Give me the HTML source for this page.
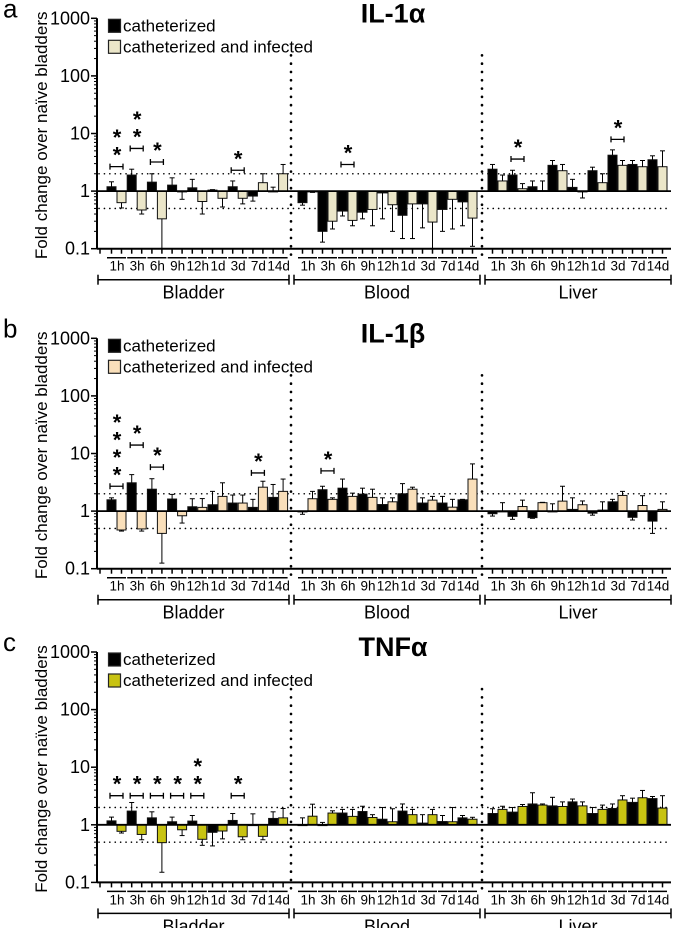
<!DOCTYPE html>
<html><head><meta charset="utf-8"><style>
html,body{margin:0;padding:0;background:#fff;}
svg{display:block;font-family:"Liberation Sans",sans-serif;}
</style></head><body>
<svg id="chart" width="673" height="928" viewBox="0 0 673 928" xmlns="http://www.w3.org/2000/svg"></svg>
<script>
const timepoints = ["1h","3h","6h","9h","12h","1d","3d","7d","14d"];
const tissues = ["Bladder","Blood","Liver"];
const yTicks = [0.1,1,10,100,1000];
const yTickLabels = ["0.1","1","10","100","1000"];
const panelTitles = ["IL-1\u03b1","IL-1\u03b2","TNF\u03b1"];
const panelLetters = ["a","b","c"];

// Panel a (IL-1a): 27 groups = bladder, blood, liver
const aCath    = [1.19,1.9,1.43,1.27,1.14,1.04,1.19,0.82,1.0, 0.63,0.2,0.45,0.43,0.93,0.38,0.6,0.48,0.65, 2.4,1.9,1.19,2.8,1.16,2.26,4.2,2.9,3.5];
const aCathErr = [1.45,2.4,2.0,1.7,1.6,1.06,1.5,0.67,1.17, 0.57,0.13,0.37,0.33,0.33,0.15,0.23,0.2,0.25, 2.9,2.3,1.5,3.4,1.6,2.6,5.2,3.4,4.1];
const aInf     = [0.63,0.47,0.33,0.98,0.66,0.75,0.75,1.4,2.0, 0.97,0.3,0.31,0.48,0.58,0.6,0.29,0.72,0.34, 1.5,1.1,1.02,2.26,0.97,1.4,2.8,2.65,2.65];
const aInfErr  = [0.51,0.4,0.1,0.72,0.4,0.53,0.6,2.0,2.9, 0.95,0.22,0.25,0.25,0.2,0.15,0.1,0.22,0.11, 1.9,1.35,1.5,2.9,0.76,2.0,3.4,3.4,5.0];
const aSigGroup = [0,1,2,6,11,19,24];
const aSigLevel = [2.66,5.5,3.2,2.3,2.9,3.6,7.9];
const aSigStars = [2,2,1,1,1,1,1];

// Panel b (IL-1b)
const bCath    = [1.57,3.1,2.4,1.62,1.19,1.29,1.38,1.16,1.73, 0.97,2.35,2.5,1.97,1.3,2.0,1.38,1.38,1.57, 0.9,0.81,0.77,1.0,1.07,0.92,1.45,0.78,0.67];
const bCathErr = [1.7,4.3,3.65,1.95,1.64,2.2,1.9,1.6,2.9, 0.88,2.7,3.6,2.5,1.7,3.0,1.7,1.8,1.6, 0.82,0.72,0.75,1.34,1.7,0.85,1.6,0.7,0.41];
const bInf     = [0.47,0.49,0.41,0.83,1.16,1.8,1.38,2.6,2.2, 1.64,1.6,1.8,1.73,1.45,2.4,1.55,1.17,3.6, 1.0,1.2,1.4,1.49,1.29,1.04,1.87,1.25,1.07];
const bInfErr  = [0.45,0.45,0.125,0.62,1.65,3.1,1.9,3.3,3.6, 2.2,1.7,2.05,2.4,1.7,2.6,1.8,1.6,6.6, 1.4,1.55,1.42,2.7,1.5,1.45,2.2,1.85,1.45];
const bSigGroup = [0,1,2,7,10];
const bSigLevel = [2.7,14,5.8,4.6,5.0];
const bSigStars = [4,1,1,1,1];

// Panel c (TNFa)
const cCath    = [1.17,1.73,1.32,1.13,1.16,0.74,1.19,1.0,1.29, 1.0,1.0,1.6,1.7,1.25,1.73,1.07,1.14,1.32, 1.57,1.66,2.3,2.13,2.5,1.57,1.92,2.45,2.85];
const cCathErr = [1.36,2.44,1.68,1.36,1.45,0.43,1.57,1.55,1.68, 1.32,1.1,1.85,2.1,2.0,2.3,1.5,1.45,1.45, 1.9,2.0,3.6,3.0,2.8,2.0,2.3,2.9,3.1];
const cInf     = [0.77,0.68,0.49,0.82,0.56,0.78,0.62,0.63,1.32, 1.41,1.6,1.4,1.34,1.13,1.5,1.5,1.13,1.25, 1.85,2.08,2.2,2.08,2.13,1.85,2.7,2.95,1.95];
const cInfErr  = [0.72,0.55,0.15,0.65,0.44,0.57,0.55,0.55,1.92, 2.28,1.75,1.85,1.5,1.9,1.85,1.85,2.0,1.35, 2.1,2.25,2.3,2.5,2.5,2.2,3.2,3.95,3.2];
const cSigGroup = [0,1,2,3,4,6];
const cSigLevel = [3.2,3.2,3.2,3.2,3.2,3.2];
const cSigStars = [1,1,1,1,2,1];

const NS = "http://www.w3.org/2000/svg";
const svg = document.getElementById("chart");
function mk(tag, attrs, parent){
  const e = document.createElementNS(NS, tag);
  for (const k in attrs) e.setAttribute(k, attrs[k]);
  (parent||svg).appendChild(e);
  return e;
}
const X0 = 97, XR = 671;
const tissueStart = [107, 298, 488];
const tissuePitch = [20.2, 20, 20];
const BW = 9;
function gx(k){ const t = Math.floor(k/9), i = k%9; return tissueStart[t] + i*tissuePitch[t]; }

function drawPanel(p, top, cath, cathErr, inf, infErr, sigG, sigL, sigS, color){
  const g = mk("g", {});
  
  
  const y = v => top + (3 - Math.log10(v)) * 57.6;
  const yBot = y(0.1);
  const L = mk("text", {x:3, y:top-1, "font-size":26}, g); L.textContent = panelLetters[p];
  
  
  const T = mk("text", {x:393, y:top+4, "font-size":27, "font-weight":"bold", "text-anchor":"middle"}, g); T.textContent = panelTitles[p];
  
  
  const YT = mk("text", {x:0, y:0, "font-size":17, "text-anchor":"middle", transform:`translate(47,${top+117}) rotate(-90)`}, g);
  YT.textContent = "Fold change over na\u00efve bladders";
  
  
  const ax = mk("line", {x1:X0, y1:y(1000), x2:X0, y2:yBot, stroke:"#000", "stroke-width":2}, g);
  
  
  yTicks.forEach((v,i)=>{
    mk("line", {x1:X0-6, y1:y(v), x2:X0, y2:y(v), stroke:"#000", "stroke-width":1.5}, g);
    const tl = mk("text", {x:90, y:y(v)+6, "font-size":18, "text-anchor":"end"}, g);
    tl.textContent = yTickLabels[i];
    
    
    if (i < yTicks.length-1) for (let m=2;m<=9;m++){
      mk("line", {x1:X0-3, y1:y(v*m), x2:X0, y2:y(v*m), stroke:"#000", "stroke-width":1}, g);
    }
  });
  [2,0.5].forEach(v=>{
    const d = mk("line", {x1:X0+2, y1:y(v), x2:XR, y2:y(v), stroke:"#000", "stroke-width":1.6, "stroke-dasharray":"0.1,5.3", "stroke-linecap":"round"}, g);
    
    
  });
  [291, 482].forEach(xs=>{
    const d = mk("line", {x1:xs, y1:y(1000)+37, x2:xs, y2:yBot+6, stroke:"#000", "stroke-width":2.6, "stroke-dasharray":"0.1,8.2", "stroke-linecap":"round"}, g);
    
    
  });
  for (let k=0;k<27;k++){
    const bx = gx(k);
    [[cath[k],cathErr[k],"#000",bx],[inf[k],infErr[k],color,bx+10]].forEach(([v,e,c,xx],s)=>{
      const y1 = y(1), yv = y(v);
      const r = mk("rect", {x:xx, y:Math.min(y1,yv), width:BW, height:Math.max(Math.abs(yv-y1),0.8), fill:c, stroke:"#111", "stroke-width":1}, g);
      
      
      const cx = xx + BW/2, ye = Math.min(y(e), yBot);
      const eb = mk("line", {x1:cx, y1:yv, x2:cx, y2:ye, stroke:"#000", "stroke-width":1}, g);
      
      
      mk("line", {x1:cx-2.5, y1:ye, x2:cx+2.5, y2:ye, stroke:"#000", "stroke-width":1}, g);
      mk("line", {x1:cx, y1:yBot, x2:cx, y2:yBot+5, stroke:"#000", "stroke-width":1.5}, g);
    });
    mk("line", {x1:bx, y1:yBot+9, x2:bx+19, y2:yBot+9, stroke:"#000", "stroke-width":1.5}, g);
    const lab = mk("text", {x:bx+10, y:yBot+22, "font-size":13.5, "text-anchor":"middle"}, g);
    lab.textContent = timepoints[k%9];
    
    
  }
  mk("line", {x1:100, y1:yBot, x2:100, y2:yBot+5, stroke:"#000", "stroke-width":1.5}, g);
  mk("line", {x1:X0, y1:yBot, x2:XR, y2:yBot, stroke:"#000", "stroke-width":2}, g);
  const one = mk("line", {x1:X0, y1:y(1), x2:XR, y2:y(1), stroke:"#000", "stroke-width":1.8}, g);
  
  
  const tb = [[98,289],[294,480],[485,671]];
  tb.forEach(([a,b],t)=>{
    const by = yBot+31;
    mk("line", {x1:a, y1:by, x2:b, y2:by, stroke:"#000", "stroke-width":1.5}, g);
    mk("line", {x1:a, y1:by-5, x2:a, y2:by+5, stroke:"#000", "stroke-width":1.5}, g);
    mk("line", {x1:b, y1:by-5, x2:b, y2:by+5, stroke:"#000", "stroke-width":1.5}, g);
    const tt = mk("text", {x:(a+b)/2, y:by+19, "font-size":18, "text-anchor":"middle"}, g);
    tt.textContent = tissues[t];
    
    
  });
  sigG.forEach((k,i)=>{
    const bx = gx(k), by = y(sigL[i]);
    const br = mk("path", {d:`M${bx+3},${by-3}V${by+3}M${bx+3},${by}H${bx+16}M${bx+16},${by-3}V${by+3}`, stroke:"#000", "stroke-width":1.3, fill:"none"}, g);
    
    
    for (let s=0;s<sigS[i];s++){
      const st = mk("text", {x:bx+10, y:by-13-17.5*s+9, "font-size":22, "font-weight":"bold", "text-anchor":"middle"}, g);
      st.textContent = "*";
      
      
    }
  });
  [["catheterized","#000"],["catheterized and infected",color]].forEach(([t,c],i)=>{
    const ly = top + 1 + i*21;
    const sw = mk("rect", {x:108.5, y:ly, width:12, height:13, fill:c, stroke:"#222", "stroke-width":1.2}, g);
    
    
    const lt = mk("text", {x:123, y:ly+12, "font-size":17}, g);
    lt.textContent = t;
    
    
  });
}
drawPanel(0, 18.3, aCath, aCathErr, aInf, aInfErr, aSigGroup, aSigLevel, aSigStars, "#ebe6c9");
drawPanel(1, 338.3, bCath, bCathErr, bInf, bInfErr, bSigGroup, bSigLevel, bSigStars, "#f9dfba");
drawPanel(2, 652, cCath, cCathErr, cInf, cInfErr, cSigGroup, cSigLevel, cSigStars, "#c8c312");
</script>
</body></html>
